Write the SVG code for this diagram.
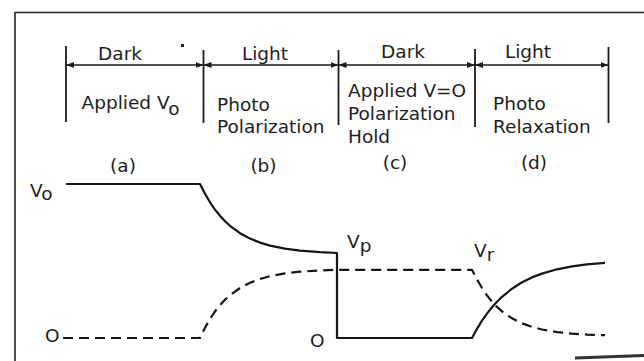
<svg xmlns="http://www.w3.org/2000/svg" width="644" height="361" viewBox="0 0 644 361">
<defs>
<style>
text{font-family:"DejaVu Sans","Liberation Sans",sans-serif;font-size:18.5px;fill:#1e1e1e}
.c{text-anchor:middle}
.div{stroke:#1a1a1a;stroke-width:1.8;fill:none}
.arr{stroke:#1a1a1a;stroke-width:1.5;fill:none;marker-start:url(#ah);marker-end:url(#ah)}
.sol{stroke:#151515;stroke-width:2.2;fill:none;stroke-linejoin:round}
.dash{stroke:#151515;stroke-width:2.2;fill:none;stroke-dasharray:10 6}
</style>
<marker id="ah" markerUnits="userSpaceOnUse" markerWidth="8" markerHeight="6" refX="8" refY="3" orient="auto-start-reverse">
<path d="M0,0 L8,3 L0,6 z" fill="#1a1a1a"/>
</marker>
</defs>
<rect width="644" height="361" fill="#ffffff"/>
<g id="frame" fill="none" stroke="#222" stroke-width="1.6">
<path d="M15,361 V12.5 H644"/>
<path d="M575,358 L644,355.5" stroke-width="3" stroke="#333"/>
</g>
<rect x="181" y="44" width="3" height="3" fill="#222"/>
<g id="timeline">
<line class="div" x1="66" y1="46" x2="66" y2="122"/>
<line class="div" x1="203.5" y1="50" x2="203.5" y2="123"/>
<line class="div" x1="338.5" y1="50" x2="338.5" y2="125"/>
<line class="div" x1="475" y1="49" x2="475" y2="127"/>
<line class="div" x1="608.5" y1="47" x2="608.5" y2="123"/>
<line class="arr" x1="66" y1="65" x2="203.5" y2="65"/>
<line class="arr" x1="203.5" y1="65" x2="338.5" y2="65"/>
<line class="arr" x1="338.5" y1="65" x2="475" y2="65"/>
<line class="arr" x1="475" y1="65" x2="608.5" y2="65"/>
</g>
<g id="phase-a">
<text class="c" x="120" y="60">Dark</text>
<text x="81.5" y="109">Applied V<tspan dy="6">o</tspan></text>
<text class="c" x="123" y="172">(a)</text>
</g>
<g id="phase-b">
<text class="c" x="265" y="60">Light</text>
<text x="217" y="110.5">Photo</text>
<text x="217" y="133">Polarization</text>
<text class="c" x="263.5" y="172">(b)</text>
</g>
<g id="phase-c">
<text class="c" x="403" y="58">Dark</text>
<text x="348" y="97">Applied V=O</text>
<text x="348" y="120">Polarization</text>
<text x="348" y="143">Hold</text>
<text class="c" x="395" y="168.5">(c)</text>
</g>
<g id="phase-d">
<text class="c" x="528" y="58">Light</text>
<text x="493" y="110">Photo</text>
<text x="493" y="133">Relaxation</text>
<text class="c" x="534" y="168.5">(d)</text>
</g>
<g id="labels">
<text x="30" y="197">V<tspan dy="3">o</tspan></text>
<text x="45" y="342">O</text>
<text x="310" y="347">O</text>
<text x="347" y="248">V<tspan dy="3.5">p</tspan></text>
<text x="474" y="257">V<tspan dy="3.5">r</tspan></text>
</g>
<g id="curves">
<path class="sol" d="M66,184 H200 L205,193.8 210,202.3 215,209.6 220,215.8 225,221.2 230,225.8 240,233.2 250,238.6 260,242.6 270,245.6 285,248.7 300,250.6 320,252.2 337,253 V338 H472 L477,328.8 482,320.7 487,313.6 492,307.3 497,301.8 502,296.8 512,288.7 522,282.3 532,277.4 542,273.6 557,269.3 572,266.4 587,264.4 605,262.8"/>
<path class="dash" d="M63,338 H200 L205,327.7 210,319 215,311.5 220,305.2 225,299.8 230,295.2 240,288 250,282.8 260,279 270,276.2 285,273.4 300,271.7 320,270.4 337,269.8 H472 L477,279.3 482,288 487,295.4 492,301.6 497,306.9 502,311.4 512,318.3 522,323.3 532,326.9 542,329.5 557,332.1 572,333.6 587,334.6 605,335.2"/>
</g>
</svg>
